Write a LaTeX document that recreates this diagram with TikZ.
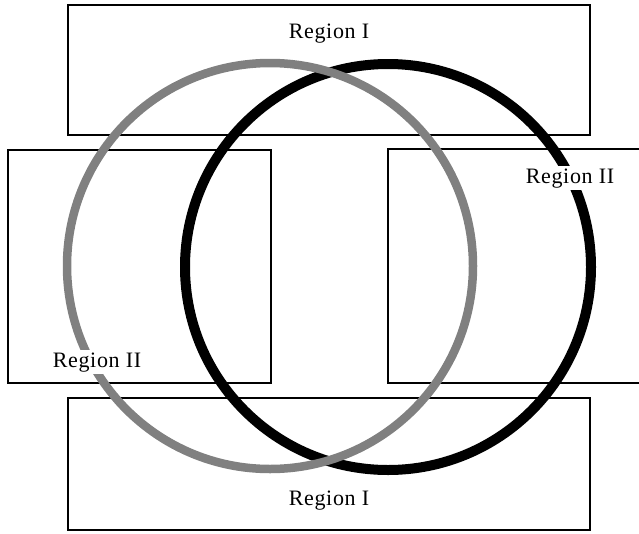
\documentclass[tikz,border=0pt]{standalone}
\usepackage{fontspec}
\setmainfont{Liberation Serif}
\begin{document}
\begin{tikzpicture}[x=1pt,y=-1pt,
  region/.style={draw=black,line width=1.4pt},
  lbl/.style={font=\fontsize{22}{26}\selectfont\addfontfeatures{LetterSpace=3},anchor=base,inner sep=2pt},
  lblw/.style={lbl,fill=white},
  greyring/.style={draw=black!50,line width=8.5pt},
  blackring/.style={draw=black,line width=10pt}]
\useasboundingbox (0,0) rectangle (639,533);
\node[region,minimum width=522pt,minimum height=130pt,inner sep=0pt] (top) at (329,70) {};
\node[region,minimum width=522pt,minimum height=132pt,inner sep=0pt] (bot) at (329,464) {};
\node[region,minimum width=263pt,minimum height=233pt,inner sep=0pt] (left) at (139.5,266.5) {};
\draw[region] (639,149) -- (388,149) -- (388,383) -- (639,383);
\coordinate (cb) at (388,267);
\coordinate (cg) at (270,266);
\draw[blackring] (cb) circle[radius=203];
\draw[greyring] (cg) circle[radius=203];
\node[lbl] (t1) at (329,38) {Region I};
\node[lbl] (t2) at (329,505) {Region I};
\node[lblw] (t3) at (570,183) {Region II};
\node[lblw] (t4) at (97,367) {Region II};
\end{tikzpicture}
\end{document}
